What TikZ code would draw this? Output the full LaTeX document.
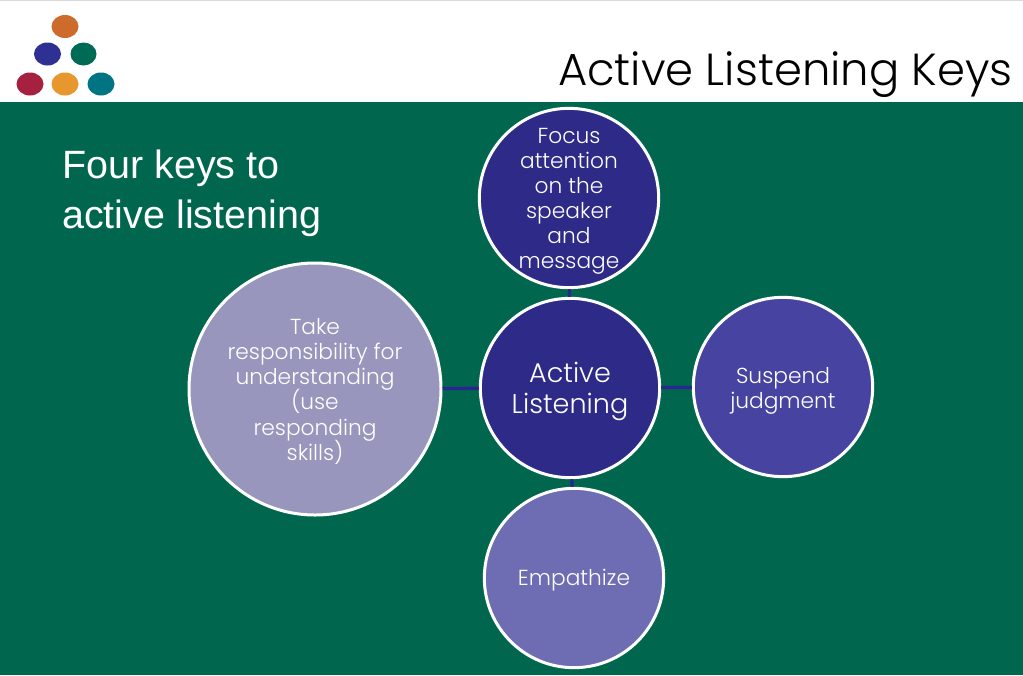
\documentclass[tikz,border=0pt]{standalone}
\usepackage{fontspec}
\setmainfont{Poppins}[UprightFont=* Light]
\newfontfamily\headfont{Liberation Sans}
\definecolor{bggreen}{HTML}{00674E}
\definecolor{navy}{HTML}{2E2A87}
\definecolor{midblue}{HTML}{4743A0}
\definecolor{violet}{HTML}{6E6CB2}
\definecolor{lilac}{HTML}{9896BC}
\definecolor{dorange}{HTML}{CC6B2C}
\definecolor{dblue}{HTML}{2E3192}
\definecolor{dgreen}{HTML}{006B55}
\definecolor{dred}{HTML}{A6213F}
\definecolor{dyellow}{HTML}{E8962E}
\definecolor{dteal}{HTML}{007483}
\newcommand{\topgap}[1]{\rule{0pt}{#1}}
\tikzset{
 keycircle/.style={circle,draw=white,line width=2.25pt,inner sep=-20pt,text=white,align=center},
 link/.style={draw=navy!90!blue,line width=2.5pt},
 bodytext/.style={font=\fontsize{16.3}{18.8}\selectfont}
}
\begin{document}
\begin{tikzpicture}[x=0.75pt,y=-0.75pt]
\useasboundingbox (0,0) rectangle (1023,675);
\fill[white] (0,0) rectangle (1023,675);
\fill[bggreen] (0,102) rectangle (1023,675);
\draw[gray!30,line width=0.75pt] (0,0.5) -- (1023,0.5);
\fill[dorange] (65,26.5) ellipse (13.5 and 11.5);
\fill[dblue] (47.5,54) ellipse (13.5 and 11.5);
\fill[dgreen] (83.5,54) ellipse (13 and 11.5);
\fill[dred] (30,84) ellipse (13.5 and 11.5);
\fill[dyellow] (65,84) ellipse (13.5 and 11.5);
\fill[dteal] (101,84) ellipse (13.5 and 11.5);
\node[anchor=east,inner sep=0pt,font=\fontsize{33.7}{40}\selectfont] (title) at (1013,75) {Active Listening Keys};
\node[anchor=west,inner sep=0pt,text=white,align=left,font=\headfont\fontsize{29.6}{37.5}\selectfont] (head) at (62,193) {Four keys to\\active listening};
\node[keycircle,fill=navy,minimum size=134.5pt,font=\fontsize{20.3}{23.3}\selectfont] (c) at (570,388) {\topgap{21pt}Active\\Listening};
\node[keycircle,fill=navy,minimum size=134.5pt,bodytext] (a) at (569,198) {\topgap{16.5pt}Focus\\attention\\on the\\speaker\\and\\message};
\node[keycircle,fill=midblue,minimum size=134.5pt,bodytext] (b) at (783,387) {\topgap{18pt}Suspend\\judgment};
\node[keycircle,fill=violet,minimum size=134.5pt,bodytext] (d) at (574,578) {\topgap{16pt}Empathize};
\node[keycircle,fill=lilac,minimum size=189pt,bodytext] (e) at (315,389) {\topgap{12.8pt}Take\\responsibility for\\understanding\\\smash{(}use\\responding\\skills\smash{)}};
\path[link] (c) -- (a);
\path[link] (c) -- (b);
\path[link] (c) -- (d);
\path[link] (c) -- (e);
\end{tikzpicture}
\end{document}
